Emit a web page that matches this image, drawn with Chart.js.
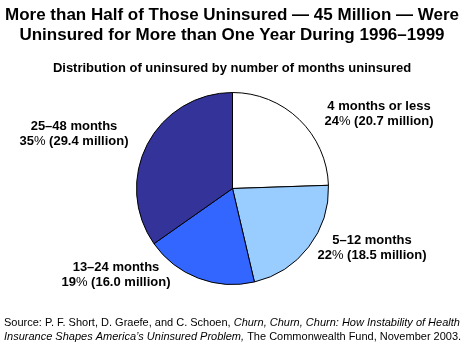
<!DOCTYPE html>
<html>
<head>
<meta charset="utf-8">
<script src="https://cdn.jsdelivr.net/npm/chart.js@4/dist/chart.umd.min.js"></script>
<style>
  html, body { margin: 0; padding: 0; background: #fff; }
  #wrap { width: 464px; height: 345px; position: relative; }
</style>
</head>
<body>
<div id="wrap"><canvas id="pieChart" width="464" height="345"></canvas></div>
<script>
// months uninsured, millions of people, slice colours
const categories = ['4 months or less', '5\u201312 months', '13\u201324 months', '25\u201348 months'];
const millions = [20.7, 18.5, 16.0, 29.4];
const sliceColors = ['#FFFFFF', '#99CCFF', '#3366FF', '#333399'];

const titleLines = [
    'More than Half of Those Uninsured \u2014 45 Million \u2014 Were',
    'Uninsured for More than One Year During 1996\u20131999'
];
const subtitle = 'Distribution of uninsured by number of months uninsured';

// where each slice label sits (center of text block)
const labelSpots = [[379, 113], [372, 247], [116, 274], [74, 133]];

const total = millions.reduce((a, b) => a + b, 0);

function drawMixed(ctx, parts, cx, y) {
    let w = 0;
    parts.forEach(p => { ctx.font = p.f; w += ctx.measureText(p.t).width; });
    let x = cx - w / 2;
    parts.forEach(p => {
        ctx.font = p.f;
        ctx.fillText(p.t, x, y);
        x += ctx.measureText(p.t).width;
    });
}

const textPlugin = {
    id: 'textPlugin',
    afterDraw(chart) {
        const ctx = chart.ctx;
        ctx.save();
        ctx.fillStyle = '#000';
        ctx.textBaseline = 'middle';
        ctx.textAlign = 'center';

        // heading
        ctx.font = 'bold 17px "Liberation Sans", Arial, sans-serif';
        ctx.fillText(titleLines[0], 232, 15);
        ctx.fillText(titleLines[1], 232, 35);
        ctx.font = 'bold 13px "Liberation Sans", Arial, sans-serif';
        ctx.fillText(subtitle, 232, 68);

        // slice labels
        const bold = 'bold 13px "Liberation Sans", Arial, sans-serif';
        const plain = '13px "Liberation Sans", Arial, sans-serif';
        ctx.textAlign = 'left';
        millions.forEach((v, i) => {
            const [cx, cy] = labelSpots[i];
            const pct = Math.round(v / total * 100);
            drawMixed(ctx, [{ t: categories[i], f: bold }], cx, cy - 7);
            drawMixed(ctx, [
                { t: String(pct), f: bold },
                { t: '%', f: plain },
                { t: ' (' + v.toFixed(1) + ' million)', f: bold }
            ], cx, cy + 8);
        });

        // source note
        const norm = '11px "Liberation Sans", Arial, sans-serif';
        const ital = 'italic 11px "Liberation Sans", Arial, sans-serif';
        const lines = [
            [{ t: 'Source: P. F. Short, D. Graefe, and C. Schoen, ', f: norm },
             { t: 'Churn, Churn, Churn: How Instability of Health', f: ital }],
            [{ t: 'Insurance Shapes America\u2019s Uninsured Problem,', f: ital },
             { t: ' The Commonwealth Fund, November 2003.', f: norm }]
        ];
        lines.forEach((parts, li) => {
            let x = 4;
            parts.forEach(p => {
                ctx.font = p.f;
                ctx.fillText(p.t, x, 323 + li * 14);
                x += ctx.measureText(p.t).width;
            });
        });
        ctx.restore();
    }
};

new Chart(document.getElementById('pieChart'), {
    type: 'pie',
    data: {
        labels: categories,
        datasets: [{
            data: millions,
            backgroundColor: sliceColors,
            borderColor: '#000',
            borderWidth: 1
        }]
    },
    options: {
        responsive: false,
        animation: false,
        layout: { padding: { left: 136, right: 135, top: 92, bottom: 60 } },
        plugins: {
            legend: { display: false },
            tooltip: { enabled: false }
        }
    },
    plugins: [textPlugin]
});
</script>
</body>
</html>
